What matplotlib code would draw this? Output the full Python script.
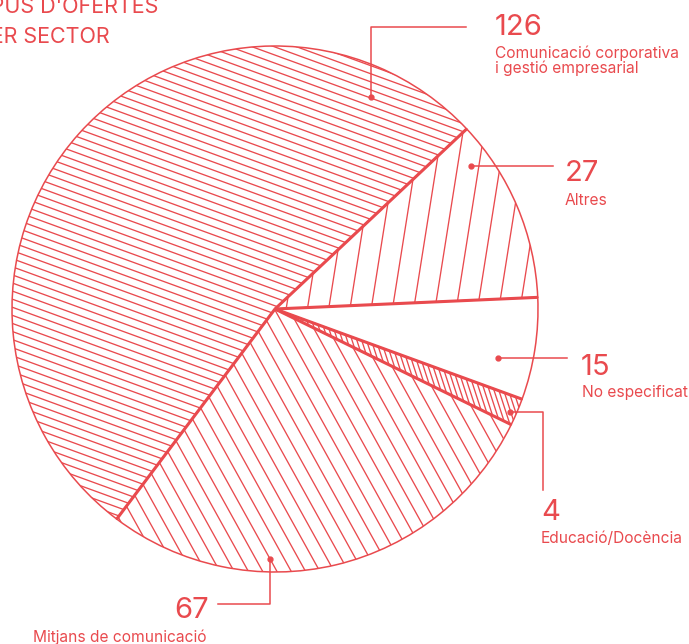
import matplotlib
matplotlib.use('Agg')
import matplotlib.pyplot as plt
from matplotlib.collections import LineCollection
import numpy as np

plt.rcParams['font.family'] = ['Inter', 'DejaVu Sans']

# data
sectors = ["Comunicació corporativa\ni gestió empresarial", "Altres", "No especificat",
           "Educació/Docència", "Mitjans de comunicació"]
counts = [126, 27, 15, 4, 67]
title_lines = ["TIPUS D'OFERTES", "PER SECTOR"]

RED = '#E94A4E'
W, H = 689, 644

# hatch per wedge: (angle in deg, spacing in px); None = empty
hatches = [(-20, 7.6), (81, 21), None, (-72, 4.6), (-61, 12.5)]

# label layout, in pixels from top-left: number baseline, label baseline, leader polyline
layout = [
    dict(num=(495, 35), lab=(495, 58), leader=[(371, 97), (371, 27), (466, 27)]),
    dict(num=(565, 181), lab=(565, 205), leader=[(471, 166), (553, 166)]),
    dict(num=(581, 375), lab=(582, 397), leader=[(498, 358), (567, 358)]),
    dict(num=(541, 520), lab=(541, 543), leader=[(510, 412), (543, 412), (543, 490)]),
    dict(num=(209, 618), lab=(33, 642), num_ha='right',
         leader=[(270, 559), (270, 604), (218, 604)]),
]

cx, cy, R = 275, 309, 263
start = 233


def px(x, y):
    return x, H - y


fig = plt.figure(figsize=(W / 100, H / 100), dpi=100)
ax = fig.add_axes([0, 0, 1, 1])

wedges, _ = ax.pie(counts, startangle=start, counterclock=False,
                   center=px(cx, cy), radius=R,
                   wedgeprops=dict(facecolor='white', edgecolor=RED, linewidth=1.1))

c = np.array(px(cx, cy))
for w, h in zip(wedges, hatches):
    if h is None:
        continue
    a = np.radians(h[0])
    d = np.array([np.cos(a), np.sin(a)])
    n = np.array([-np.sin(a), np.cos(a)])
    segs = []
    for k in np.arange(-R, R, h[1]):
        p = c + k * n
        segs.append([p - R * 1.1 * d, p + R * 1.1 * d])
    lc = LineCollection(segs, colors=RED, linewidths=0.95, zorder=3)
    ax.add_collection(lc)
    lc.set_clip_path(w)

# thick radial borders between wedges
total = sum(counts)
bounds = start - np.cumsum([0] + counts) * 360.0 / total
for b in bounds[:-1]:
    t = np.radians(b)
    ax.plot([c[0], c[0] + R * np.cos(t)], [c[1], c[1] + R * np.sin(t)],
            color=RED, lw=2.2, solid_capstyle='butt', zorder=4)

# leaders and labels
for cnt, name, lay in zip(counts, sectors, layout):
    pts = [px(*p) for p in lay['leader']]
    xs, ys = zip(*pts)
    ax.plot(xs, ys, color=RED, lw=1.1, zorder=5)
    ax.plot(xs[0], ys[0], 'o', color=RED, ms=3.5, zorder=6)
    ax.text(*px(*lay['num']), str(cnt), color=RED, fontsize=21,
            ha=lay.get('num_ha', 'left'), va='baseline')
    lx, ly = lay['lab']
    for i, line in enumerate(name.split('\n')):
        ax.text(*px(lx, ly + 15 * i), line, color=RED, fontsize=11.2,
                ha='left', va='baseline')

# title, partly cut at the left edge as in the original
for line, (tx, ty) in zip(title_lines, [(158, 13), (110, 43)]):
    ax.text(*px(tx, ty), line, color=RED, fontsize=15.5, ha='right', va='baseline')

ax.set_xlim(0, W)
ax.set_ylim(0, H)
ax.set_aspect('equal')
ax.axis('off')

fig.savefig('out.png', dpi=100)
